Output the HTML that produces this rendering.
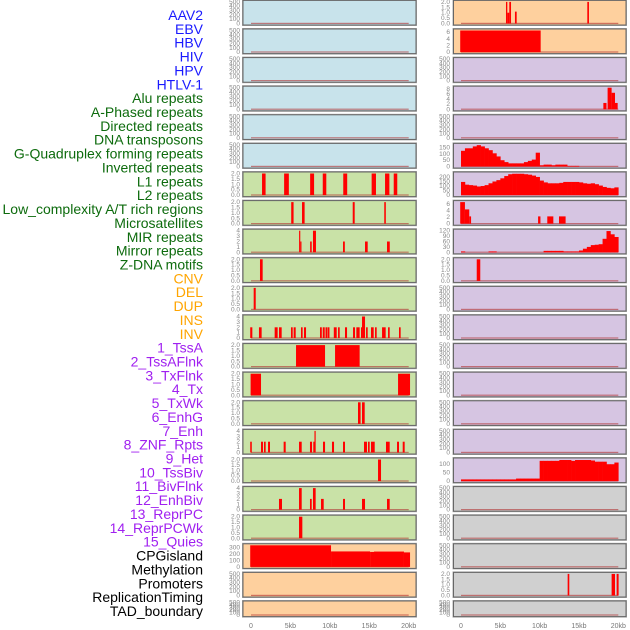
<!DOCTYPE html>
<html><head><meta charset="utf-8"><style>
html,body{margin:0;padding:0;background:#fff;}
svg{display:block;font-family:"Liberation Sans",sans-serif;}
</style></head><body>
<svg id="chart" width="630" height="630" xmlns="http://www.w3.org/2000/svg"></svg>
<script>
// ---------- labels ----------
const trackLabels=["AAV2","EBV","HBV","HIV","HPV","HTLV-1","Alu repeats","A-Phased repeats","Directed repeats","DNA transposons","G-Quadruplex forming repeats","Inverted repeats","L1 repeats","L2 repeats","Low_complexity A/T rich regions","Microsatellites","MIR repeats","Mirror repeats","Z-DNA motifs","CNV","DEL","DUP","INS","INV","1_TssA","2_TssAFlnk","3_TxFlnk","4_Tx","5_TxWk","6_EnhG","7_Enh","8_ZNF_Rpts","9_Het","10_TssBiv","11_BivFlnk","12_EnhBiv","13_ReprPC","14_ReprPCWk","15_Quies","CPGisland","Methylation","Promoters","ReplicationTiming","TAD_boundary"];
const labelGroups=["v","v","v","v","v","v","r","r","r","r","r","r","r","r","r","r","r","r","r","s","s","s","s","s","c","c","c","c","c","c","c","c","c","c","c","c","c","c","c","k","k","k","k","k"];
const xTickVals=[0,5,10,15,20];
const xTickText=["0","5kb","10kb","15kb","20kb"];
// ---------- left column interval data [startKb,endKb,value] ----------
const L6=[[1.4,1.85,2],[4.2,4.8,2],[7.5,8.0,2],[9.1,9.55,2],[11.7,12.2,2],[15.3,15.85,2],[17.0,17.55,2],[18.1,18.55,2]];
const L7=[[5.1,5.4,2],[6.47,6.8,2],[12.9,13.15,2],[16.9,17.1,2]];
const L8=[[6.1,6.25,4],[6.25,6.4,2],[7.5,7.7,2],[7.86,8.24,4],[11.67,11.9,2],[14.46,14.8,2],[17.25,17.6,2]];
const L9=[[1.14,1.48,2]];
const L10=[[0.34,0.6,2]];
const L11=[[-0.1,0.17,2],[1.01,1.35,2],[3.0,3.38,2],[3.55,3.89,2],[5.07,5.29,2],[5.41,5.67,2],[6.34,6.55,2],[6.72,6.98,2],[8.75,8.98,2],[9.1,9.35,2],[9.45,9.7,2],[9.75,9.95,2],[10.5,10.87,2],[11.04,11.25,2],[11.92,12.18,2],[12.94,13.19,2],[13.36,13.78,2],[13.95,14.08,2],[14.08,14.46,4],[14.59,14.8,2],[15.22,15.56,2],[15.73,15.94,2],[16.62,17.08,2],[17.38,17.59,2],[18.77,18.98,2]];
const L12=[[5.71,9.39,2],[10.66,13.78,2]];
const L13=[[-0.05,1.27,2],[18.65,20.17,2]];
const L14=[[13.57,13.9,2],[14.08,14.42,2]];
const L15=[[-0.1,0.1,2],[1.27,1.52,2],[1.65,1.86,2],[2.16,2.41,2],[4.14,4.4,2],[6.09,6.43,2],[7.48,7.74,2],[7.9,8.05,2],[8.05,8.2,4],[9.13,9.39,2],[10.27,10.53,2],[11.67,11.92,2],[14.33,14.71,2],[14.84,15.05,2],[15.22,15.69,2],[17.12,17.59,2],[18.52,18.77,2],[19.24,19.49,2]];
const L16=[[16.11,16.49,2]];
const L17=[[3.55,3.93,2],[6.09,6.43,4],[7.48,7.7,2],[7.86,8.2,4],[8.88,9.22,2],[11.67,11.92,2],[14.08,14.46,2],[17.25,17.59,2]];
const L18=[[6.09,6.51,2]];
const L19=[[-0.1,10.15,335],[10.15,15.1,240],[15.1,15.6,232],[15.6,19.4,238],[19.4,20.17,225]];
// ---------- right column data ----------
const R0=[[5.72,5.89,2],[5.89,6.14,1],[6.14,6.36,2],[6.86,7.08,1.1],[16.06,16.27,2]];
const R1=[[-0.1,10.13,6.5]];
const R3=[[18.1,18.5,2.5],[18.64,19.15,8.5],[19.15,19.58,6.5],[19.58,19.92,2.5]];
const R5bins=[125,145,145,160,170,160,145,130,105,80,50,35,25,25,25,25,35,45,55,110,10,15,15,10,15,15,15,5,5,5,0,0,0,0,0,0,0,0,0,0];
const R6bins=[145,115,110,105,95,100,110,130,150,165,185,210,230,235,235,235,230,225,215,200,160,140,130,130,130,135,145,145,145,145,140,130,125,130,120,105,90,80,75,85];
const R7=[[-0.1,0.5,6.5],[0.5,1.05,4.3],[1.05,1.28,2.2],[9.8,10.1,2.2],[10.97,11.74,2.2],[12.46,13.3,2.2]];
const R8bins=[5,0,0,0,0,0,0,5,5,0,0,0,0,0,0,0,0,0,0,0,0,8,8,8,8,8,5,5,5,5,10,20,30,40,42,45,75,118,100,85];
const R9=[[2.0,2.45,2]];
const R16bins=[10,10,10,10,10,10,10,10,10,10,10,10,10,10,15,15,15,15,15,15,120,120,120,120,120,125,125,125,120,125,125,125,125,122,115,115,115,100,100,110];
const R20=[[13.56,13.77,2],[19.15,19.58,2],[19.79,20.04,2]];
// ---------- tick sets ----------
const ticksBig=[0,100,200,300,400,500];
const ticks2=[0,0.5,1.0,1.5,2.0];
const ticks4=[0,1,2,3,4];
const BG={blue:"#c8e3eb",green:"#c9e2a7",orange:"#fed09e",purple:"#d6c5e2",gray:"#d0d0d0"};
// col, row, bg, yMax, ticks, decimals, intervals, bins
const panels=[];
for(let r=0;r<6;r++)panels.push([0,r,"blue",500,ticksBig,0,null,null]);
panels.push([0,6,"green",2,ticks2,1,L6,null]);
panels.push([0,7,"green",2,ticks2,1,L7,null]);
panels.push([0,8,"green",4,ticks4,0,L8,null]);
panels.push([0,9,"green",2,ticks2,1,L9,null]);
panels.push([0,10,"green",2,ticks2,1,L10,null]);
panels.push([0,11,"green",4,ticks4,0,L11,null]);
panels.push([0,12,"green",2,ticks2,1,L12,null]);
panels.push([0,13,"green",2,ticks2,1,L13,null]);
panels.push([0,14,"green",2,ticks2,1,L14,null]);
panels.push([0,15,"green",4,ticks4,0,L15,null]);
panels.push([0,16,"green",2,ticks2,1,L16,null]);
panels.push([0,17,"green",4,ticks4,0,L17,null]);
panels.push([0,18,"green",2,ticks2,1,L18,null]);
panels.push([0,19,"orange",335,[0,100,200,300],0,L19,null]);
panels.push([0,20,"orange",500,ticksBig,0,null,null]);
panels.push([0,21,"orange",500,ticksBig,0,null,null]);
panels.push([1,0,"orange",2,ticks2,1,R0,null]);
panels.push([1,1,"orange",6.5,[0,2,4,6],0,R1,null]);
panels.push([1,2,"purple",500,ticksBig,0,null,null]);
panels.push([1,3,"purple",8.5,[0,2,4,6,8],0,R3,null]);
panels.push([1,4,"purple",500,ticksBig,0,null,null]);
panels.push([1,5,"purple",172,[0,50,100,150],0,null,R5bins]);
panels.push([1,6,"purple",238,[0,50,100,150,200],0,null,R6bins]);
panels.push([1,7,"purple",6.5,[0,2,4,6],0,R7,null]);
panels.push([1,8,"purple",120,[0,30,60,90,120],0,null,R8bins]);
panels.push([1,9,"purple",2,ticks2,1,R9,null]);
for(let r=10;r<16;r++)panels.push([1,r,"purple",500,ticksBig,0,null,null]);
panels.push([1,16,"purple",128,[0,50,100],0,null,R16bins]);
for(let r=17;r<20;r++)panels.push([1,r,"gray",500,ticksBig,0,null,null]);
panels.push([1,20,"gray",2,ticks2,1,R20,null]);
panels.push([1,21,"gray",500,ticksBig,0,null,null]);

const NS="http://www.w3.org/2000/svg";
const svg=document.getElementById("chart");
function mk(tag,attrs,parent){const e=document.createElementNS(NS,tag);for(const k in attrs)e.setAttribute(k,attrs[k]);(parent||svg).appendChild(e);return e;}
const COLX=[{x0:243,x1:416,z:251,k:7.885,tx:240},{x0:453.5,x1:626,z:461,k:7.865,tx:450}];
function xScale(col,kb){return COLX[col].z+kb*COLX[col].k;}
function rowTop(r){return 0.4+28.6*r;}
function rowH(r){return r===21?15.6:24.6;}
function yScale(r,v,yMax){const t=rowTop(r),h=rowH(r),p=1.5;return t+h-p-(v/yMax)*(h-2*p);}

// labels
const colors={v:"#1a1aff",r:"#0d6b0d",s:"#ffa500",c:"#a020f0",k:"#000"};
trackLabels.forEach((t,i)=>{
  const e=mk("text",{x:203,y:20+13.86*i,"text-anchor":"end","font-size":"14",fill:colors[labelGroups[i]]});
  e.textContent=t;
  
  
});

panels.forEach(p=>{
  const [col,r,bg,yMax,ticks,dec,iv,bins]=p;
  const C=COLX[col],t=rowTop(r),h=rowH(r);
  const g=mk("g",{});
  
  
  mk("rect",{x:C.x0-0.5,y:t-0.5,width:C.x1-C.x0+1,height:h+1,fill:"none",stroke:"#aaa","stroke-width":1},g);
  mk("rect",{x:C.x0,y:t,width:C.x1-C.x0,height:h,fill:BG[bg],stroke:"#666","stroke-width":1},g);
  // baseline
  mk("rect",{x:xScale(col,0),y:t+h-2.2,width:xScale(col,20)-xScale(col,0),height:1.2,fill:"#b03030",opacity:0.6},g);
  // ticks
  ticks.forEach(v=>{
    const tl=mk("text",{x:C.tx,y:yScale(r,v,yMax)+2,"text-anchor":"end","font-size":"6.5",fill:"#888"},g);
    tl.textContent=dec?v.toFixed(dec):String(v);
    
    
  });
  const y0=yScale(r,0,yMax);
  if(iv){iv.forEach(d=>{
    const xa=xScale(col,d[0]),xb=xScale(col,d[1]),yv=yScale(r,d[2],yMax);
    const b=mk("rect",{x:xa,y:yv,width:Math.max(1,xb-xa),height:y0-yv,fill:"#ff0000"},g);
    
    
  });}
  if(bins){bins.forEach((v,i)=>{
    if(v<=0)return;
    const xa=xScale(col,i*0.5),xb=xScale(col,(i+1)*0.5),yv=yScale(r,v,yMax);
    const b=mk("rect",{x:xa,y:yv,width:xb-xa+0.3,height:y0-yv,fill:"#ff0000"},g);
    
    
  });}
});
// x-axis labels
[0,1].forEach(col=>{
  xTickVals.forEach((v,i)=>{
    const e=mk("text",{x:xScale(col,v),y:628,"text-anchor":"middle","font-size":"7",fill:"#777"});
    e.textContent=xTickText[i];
    
    
  });
});
</script>
</body></html>
